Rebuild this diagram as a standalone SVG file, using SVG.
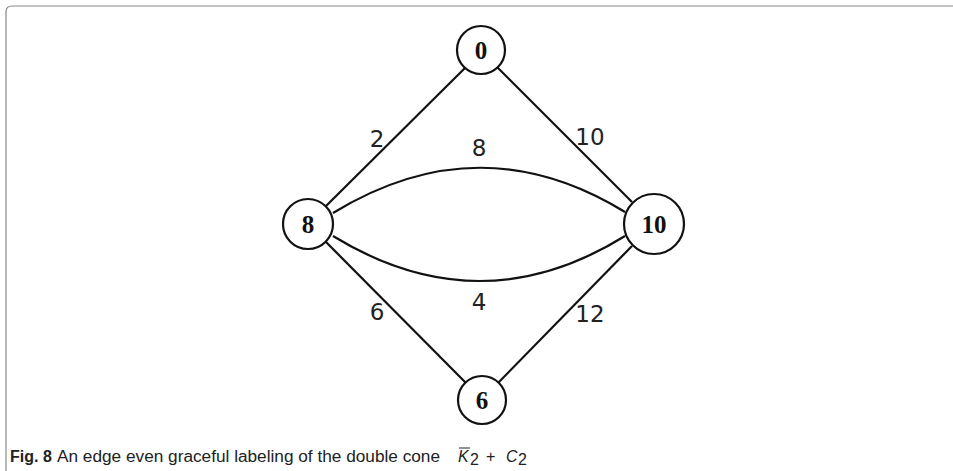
<svg xmlns="http://www.w3.org/2000/svg" width="953" height="471" viewBox="0 0 953 471">
<style>
.node{fill:#fff;stroke:#111;stroke-width:2.2}
.nl{font-family:"Liberation Serif",serif;font-weight:bold;font-size:25px;fill:#111;text-anchor:middle}
.edge{fill:none;stroke:#111;stroke-width:2.2}
.el{font-family:"DejaVu Sans","Liberation Sans",sans-serif;font-size:23px;fill:#222;text-anchor:middle}
.cap{font-family:"Liberation Sans Narrow","Liberation Sans",sans-serif;font-size:16px;fill:#222}
</style>
<rect x="0" y="0" width="953" height="471" fill="#fff"/>
<path d="M6,480 V12 Q6,6 12,6 H960" fill="none" stroke="#888" stroke-width="1.2"/>
<g id="connectors">
<line class="edge" x1="466" y1="67" x2="326" y2="206"/>
<line class="edge" x1="497" y1="67" x2="632" y2="202"/>
<line class="edge" x1="326" y1="242" x2="466" y2="383"/>
<line class="edge" x1="632" y1="246" x2="498" y2="383"/>
<path class="edge" d="M333,213 Q480,123 625,212"/>
<path class="edge" d="M333,236 Q480,326 625,236"/>
<text class="el" x="377" y="147">2</text>
<text class="el" x="479" y="156">8</text>
<text class="el" x="590" y="145">10</text>
<text class="el" x="377" y="320">6</text>
<text class="el" x="479" y="310">4</text>
<text class="el" x="590" y="322">12</text>
</g>
<g id="node0"><circle class="node" cx="481" cy="50" r="24"/><text class="nl" x="481" y="59">0</text></g>
<g id="node8"><circle class="node" cx="308" cy="224" r="25"/><text class="nl" x="308" y="233">8</text></g>
<g id="node10"><circle class="node" cx="654" cy="224" r="30"/><text class="nl" x="654" y="233">10</text></g>
<g id="node6"><circle class="node" cx="482" cy="400" r="24"/><text class="nl" x="482" y="409">6</text></g>
<g id="caption">
<text class="cap" x="10" y="462"><tspan font-weight="bold">Fig. 8</tspan></text>
<text class="cap" x="57" y="462" textLength="383" lengthAdjust="spacingAndGlyphs">An edge even graceful labeling of the double cone</text>
<text class="cap" x="458" y="462" font-style="italic">K</text>
<line x1="459" y1="448" x2="470" y2="448" stroke="#222" stroke-width="1"/>
<text class="cap" x="470" y="465" font-size="13">2</text>
<text class="cap" x="486" y="462">+</text>
<text class="cap" x="506" y="462" font-style="italic">C</text>
<text class="cap" x="518" y="465" font-size="13">2</text>
</g>
</svg>
